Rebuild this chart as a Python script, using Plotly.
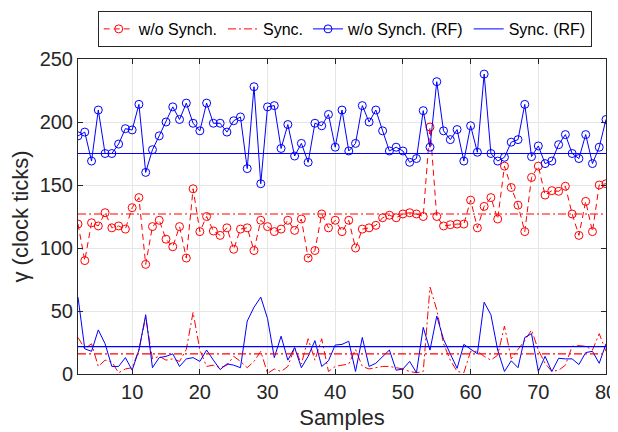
import plotly.graph_objects as go

samples = list(range(2, 81))

wo_sync = [119, 90, 120, 117.5, 128, 116, 117.5, 115, 132, 140, 87, 117, 122, 107, 101, 117, 92, 147, 113,
           125, 113.5, 110, 116, 99, 115, 116, 98, 122, 117, 113, 115, 122, 114, 123, 92, 98, 127, 116, 122,
           113, 122, 100, 115, 116, 118, 124, 126, 124, 127, 128, 127, 125, 196, 125, 117.5, 118.5, 119, 119,
           138, 116, 133, 140, 123, 165, 148, 134, 113, 156, 165, 142, 145.5, 145, 149, 127, 110, 137, 113,
           150, 151]

sync = [29, 20, 24, 6, 11, 9.5, 1, 4, 5, 19, 45, 12, 14, 11, 12, 10, 19.5, 49, 19, 6, 7, 5, 7, 14, 10, 5,
        10, 18, 0.5, 4, 2, 6, 21, 8, 28, 11, 28, 2, 6, 7, 8, 19.5, 6, 4, 5, 6, 6, 5, 4, 2, 1, 2, 69, 51, 24,
        11, 2, 1, 18, 18, 14, 11, 15, 38, 12, 19.5, 26.5, 35, 19, 8.5, 2, 3, 7, 22, 22.5, 22, 19, 32, 18]

wo_sync_rf = [189, 192, 169, 209.5, 175, 175, 182.5, 194.7, 193.7, 214, 160, 178, 189, 200, 212, 202, 215,
              199, 193, 215, 199, 199, 192, 201, 204, 163, 228, 151, 212, 213, 179, 198, 173, 183, 168, 199,
              197, 206, 180, 209.5, 177, 183, 213, 200, 209.5, 193, 177, 180, 177, 168, 171, 209, 180, 232,
              193, 186, 194, 169, 197, 176, 238, 175, 169, 172, 184, 186, 214, 172.5, 181, 167, 169, 182,
              190, 175, 171, 190, 167, 180, 202]

sync_rf = [61, 20, 18, 35, 24, 6, 6, 13, 3, 19, 47, 5, 13, 14, 16, 6, 12, 13, 10, 19, 11, 3.5, 8, 7, 5, 42,
           53, 61, 44, 13, 30, 11, 21, 5, 14, 26.5, 6, 10.5, 23, 23.5, 26, 2, 29, 6, 8.5, 14, 19, 3, 4, 10, 1,
           37, 19, 46, 27.5, 16, 4.5, 23.5, 20, 16, 57, 47, 19, 2, 10.5, 5, 29, 32, 2, 14, 2, 12.5, 12, 12,
           7.5, 17, 18, 8.5, 24]

x_ticks = [10, 20, 30, 40, 50, 60, 70, 80]
y_ticks = [0, 50, 100, 150, 200, 250]

# reference levels drawn as horizontal lines
level_wo_sync = 127
level_sync = 16
level_wo_sync_rf = 175
level_sync_rf = 21.7

RED = "#FF0000"
BLUE = "#0000FF"
DARK = "#262626"
FONT = "Liberation Sans, Arial, sans-serif"
DASHDOT = "8px,3px,2px,3px"

fig = go.Figure()
fig.add_trace(go.Scatter(x=samples, y=wo_sync, mode="lines+markers", name="w/o Synch.",
                         line=dict(color=RED, width=1, dash="6px,4px"),
                         marker=dict(symbol="circle-open", size=8, color=RED, line=dict(width=1))))
fig.add_trace(go.Scatter(x=samples, y=sync, mode="lines", name="Sync.",
                         line=dict(color=RED, width=1, dash=DASHDOT)))
fig.add_trace(go.Scatter(x=samples, y=wo_sync_rf, mode="lines+markers", name="w/o Synch. (RF)",
                         line=dict(color=BLUE, width=1),
                         marker=dict(symbol="circle-open", size=8, color=BLUE, line=dict(width=1))))
fig.add_trace(go.Scatter(x=samples, y=sync_rf, mode="lines", name="Sync. (RF)",
                         line=dict(color=BLUE, width=1)))

x_ends = [samples[0], samples[-1]]
for lvl, col, dsh in [(level_wo_sync, RED, DASHDOT), (level_sync, RED, DASHDOT),
                      (level_wo_sync_rf, BLUE, "solid"), (level_sync_rf, BLUE, "solid")]:
    fig.add_trace(go.Scatter(x=x_ends, y=[lvl, lvl], mode="lines", showlegend=False, hoverinfo="skip",
                             line=dict(color=col, width=1.2, dash=dsh)))

axis_common = dict(showline=True, linecolor=DARK, linewidth=1, mirror="ticks",
                   ticks="inside", ticklen=5, tickcolor=DARK, automargin=False,
                   showgrid=True, gridcolor="#E6E6E6", gridwidth=1, zeroline=False,
                   tickfont=dict(family=FONT, size=20, color=DARK))

# the page body adds an 8px offset, so the figure is sized to fill the rest of the window
fig.update_layout(
    width=610, height=424,
    margin=dict(l=70, r=12, t=51, b=58),
    paper_bgcolor="white", plot_bgcolor="white",
    font=dict(family=FONT, color=DARK),
    xaxis=dict(range=[2, 80], tickvals=x_ticks,
               title=dict(text="Samples", font=dict(size=22), standoff=7), **axis_common),
    yaxis=dict(range=[0, 250], tickvals=y_ticks,
               title=dict(text="γ (clock ticks)", font=dict(size=22), standoff=6), **axis_common),
    legend=dict(orientation="h", x=0.552, xanchor="center", xref="container",
                y=1 - 3 / 424, yanchor="top", yref="container",
                bordercolor=DARK, borderwidth=1, bgcolor="white",
                font=dict(size=16, color="black"), tracegroupgap=0, itemwidth=30),
    showlegend=True,
)

fig.write_html("out.html")
